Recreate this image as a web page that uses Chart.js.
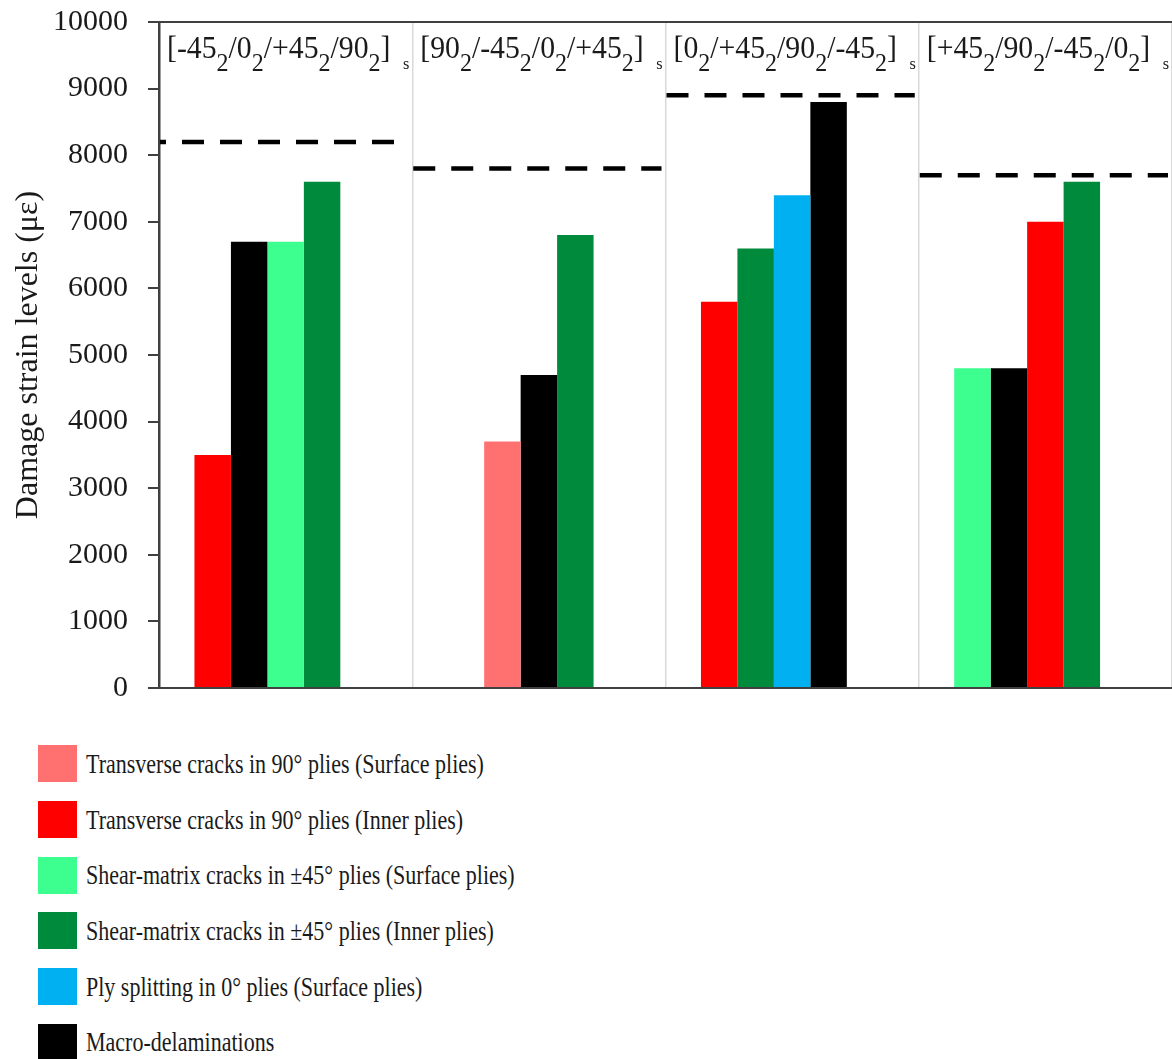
<!DOCTYPE html>
<html>
<head>
<meta charset="utf-8">
<script src="https://cdn.jsdelivr.net/npm/chart.js@4"></script>
<style>
  body { margin: 0; background: #fff; font-family: "Liberation Serif", serif; }
  #wrap { position: relative; width: 1172px; height: 726px; }
  #legend { position: absolute; left: 38px; top: 736px; }
  .item { display: flex; align-items: center; height: 55.7px; }
  .box { width: 39px; height: 37px; margin-right: 9px; flex: none; }
  .txt { font-size: 28px; color: #1a1a1a; white-space: nowrap; display: inline-block; transform: scaleX(0.786); transform-origin: left center; }
</style>
</head>
<body>
<div id="wrap"><canvas id="strainChart"></canvas></div>
<div id="legend"></div>
<script>
// laminate stacking sequences, "_" marks a subscript
const categories = ["[-45_2/0_2/+45_2/90_2]_s", "[90_2/-45_2/0_2/+45_2]_s", "[0_2/+45_2/90_2/-45_2]_s", "[+45_2/90_2/-45_2/0_2]_s"];
const yTicks = [0, 1000, 2000, 3000, 4000, 5000, 6000, 7000, 8000, 9000, 10000];

// damage modes (legend)
const modeLabels = [
  "Transverse cracks in 90° plies (Surface plies)",
  "Transverse cracks in 90° plies (Inner plies)",
  "Shear-matrix cracks in ±45° plies (Surface plies)",
  "Shear-matrix cracks in ±45° plies (Inner plies)",
  "Ply splitting in 0° plies (Surface plies)",
  "Macro-delaminations"
];
const modeColors = ["#ff7070", "#ff0000", "#3cff90", "#008a3c", "#00b0f0", "#000000"];

// bars from left to right within each laminate: value and damage mode index
const slot1Values = [3500, null, 5800, 4800];
const slot1Modes = [1, null, 1, 2];
const slot2Values = [6700, 3700, 6600, 4800];
const slot2Modes = [5, 0, 3, 5];
const slot3Values = [6700, 4700, 7400, 7000];
const slot3Modes = [2, 5, 4, 1];
const slot4Values = [7600, 6800, 8800, 7600];
const slot4Modes = [3, 3, 5, 3];
const slot5Values = [null, null, null, null];
const slot5Modes = [null, null, null, null];

// dashed level per laminate
const dashedLevels = [8200, 7800, 8900, 7700];

const slots = [
  [slot1Values, slot1Modes],
  [slot2Values, slot2Modes],
  [slot3Values, slot3Modes],
  [slot4Values, slot4Modes],
  [slot5Values, slot5Modes]
];

const datasets = slots.map(function (s, i) {
  return {
    label: "slot " + (i + 1),
    data: s[0],
    backgroundColor: s[1].map(function (m) { return m === null ? "transparent" : modeColors[m]; }),
    borderWidth: 0,
    barPercentage: 1,
    categoryPercentage: 0.72
  };
});

function drawRich(ctx, str, x0, y) {
  // parse "_x" subscripts, the trailing "_s" is smaller
  const parts = str.split(/(_[^_\/\]]+)/).filter(function (p) { return p.length; });
  ctx.save();
  ctx.translate(x0, y);
  ctx.scale(0.96, 1);
  let x = 0;
  parts.forEach(function (p, i) {
    if (p[0] === "_") {
      const last = i === parts.length - 1;
      ctx.font = (last ? "17px" : "25px") + " 'Liberation Serif'";
      if (last) x += 13;
      ctx.fillText(p.slice(1), x, last ? 11 : 13);
      x += ctx.measureText(p.slice(1)).width;
    } else {
      ctx.font = "31px 'Liberation Serif'";
      ctx.fillText(p, x, 0);
      x += ctx.measureText(p).width;
    }
  });
  ctx.restore();
}

const extrasPlugin = {
  id: "extras",
  afterDatasetsDraw: function (chart) {
    const ctx = chart.ctx;
    const xs = chart.scales.x;
    const ys = chart.scales.y;
    const area = chart.chartArea;
    const half = (xs.getPixelForValue(1) - xs.getPixelForValue(0)) / 2;
    ctx.save();
    // dashed levels
    ctx.strokeStyle = "#000";
    ctx.lineWidth = 4.5;
    ctx.setLineDash([22, 16]);
    dashedLevels.forEach(function (v, i) {
      const cx = xs.getPixelForValue(i);
      const yy = ys.getPixelForValue(v);
      ctx.lineDashOffset = i === 0 ? 16 : 0;
      ctx.beginPath();
      ctx.moveTo(cx - half + 1, yy);
      ctx.lineTo(cx + half - 4, yy);
      ctx.stroke();
    });
    ctx.setLineDash([]);
    // top border
    ctx.strokeStyle = "#404040";
    ctx.lineWidth = 2;
    ctx.beginPath();
    ctx.moveTo(area.left - 11, area.top);
    ctx.lineTo(area.right, area.top);
    ctx.stroke();
    // laminate labels
    ctx.fillStyle = "#1a1a1a";
    ctx.textBaseline = "alphabetic";
    categories.forEach(function (c, i) {
      const cx = xs.getPixelForValue(i);
      drawRich(ctx, c, cx - half + 8, area.top + 36);
    });
    ctx.restore();
  }
};

new Chart(document.getElementById("strainChart").getContext("2d"), {
  type: "bar",
  data: { labels: categories, datasets: datasets },
  plugins: [extrasPlugin],
  options: {
    responsive: true,
    maintainAspectRatio: false,
    animation: false,
    layout: { padding: { top: 22, right: 0, bottom: 36, left: 0 } },
    plugins: {
      legend: { display: false },
      tooltip: { enabled: false }
    },
    scales: {
      x: {
        ticks: { display: false },
        grid: { offset: true, color: "#d9d9d9", lineWidth: 1.5, drawTicks: false },
        border: { color: "#404040", width: 2 },
        afterFit: function (scale) { scale.height = 2; scale.paddingLeft = 0; scale.paddingRight = 0; }
      },
      y: {
        min: 0,
        max: 10000,
        afterBuildTicks: function (scale) {
          scale.ticks = yTicks.map(function (v) { return { value: v }; });
        },
        ticks: {
          padding: 20,
          color: "#1a1a1a",
          font: { family: "Liberation Serif", size: 30 },
          callback: function (value) { return String(value); }
        },
        grid: { drawOnChartArea: false, drawTicks: true, tickLength: 11, color: "#404040", lineWidth: 2 },
        border: { color: "#404040", width: 2.5 },
        title: {
          display: true,
          text: "Damage strain levels (με)",
          color: "#1a1a1a",
          font: { family: "Liberation Serif", size: 32 },
          padding: { top: 9, bottom: 0 }
        },
        afterFit: function (scale) { scale.width = 159; scale.paddingTop = 0; scale.paddingBottom = 0; }
      }
    }
  }
});

// legend
const legendEl = document.getElementById("legend");
modeLabels.forEach(function (lbl, i) {
  const row = document.createElement("div");
  row.className = "item";
  row.innerHTML = '<div class="box" style="background:' + modeColors[i] + '"></div><span class="txt">' + lbl + "</span>";
  legendEl.appendChild(row);
});
</script>
</body>
</html>
